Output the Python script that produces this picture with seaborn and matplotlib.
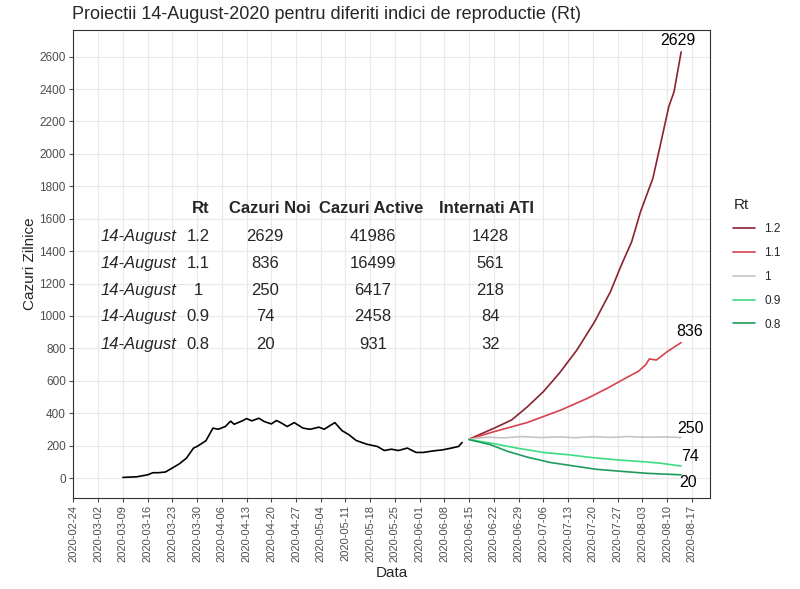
import pandas as pd
import numpy as np
import matplotlib
matplotlib.use("Agg")
import matplotlib.pyplot as plt
import matplotlib.dates as mdates
import seaborn as sns

# observed daily cases (day offset from 2020-03-09, value)
hist_start = pd.Timestamp("2020-03-09")
hist_days = [0, 4, 7, 8.5, 10, 12, 14, 16, 18, 20, 21, 23.5, 25.5, 27, 29, 30.5, 31.5, 34, 35,
             36.5, 38.5, 40, 42, 43.5, 45, 46.5, 48.5, 51, 53, 55.5, 57, 58.5, 60, 62, 64, 66,
             69, 72, 74, 76, 78, 80.5, 83, 85, 88, 90.5, 93, 95, 96]
hist_values = [4, 8, 20, 33, 33, 37, 62, 88, 123, 185, 195, 230, 308, 301, 318, 351, 332, 355, 367,
               353, 369, 349, 334, 355, 338, 318, 342, 308, 301, 314, 301, 322, 342, 293, 267, 232,
               209, 195, 170, 178, 170, 185, 158, 158, 168, 174, 185, 195, 219]

# projections (day offset from 2020-06-15, value) per Rt
proj_start = pd.Timestamp("2020-06-15")
days_12 = [0, 7, 12, 16.5, 21, 25.5, 30.5, 35.5, 40, 43, 46, 48.5, 52, 54, 56.5, 58, 60]
vals_12 = [240, 307, 358, 440, 533, 646, 790, 964, 1150, 1310, 1458, 1643, 1849, 2044, 2291, 2384, 2629]
days_11 = [0, 7, 16.5, 26, 33.5, 39, 45, 48, 50, 51, 53, 56, 60]
vals_11 = [240, 286, 343, 420, 492, 553, 625, 660, 700, 735, 728, 779, 836]
days_10 = [0, 5, 10, 15, 20, 25, 30, 35, 40, 45, 50, 55, 60]
vals_10 = [240, 252, 248, 256, 250, 254, 249, 255, 251, 256, 252, 254, 250]
days_09 = [0, 6, 13.5, 21, 28, 34.5, 42, 48.5, 54, 60]
vals_09 = [237, 216, 185, 158, 144, 127, 112, 102, 92, 74]
days_08 = [0, 6, 11, 16.5, 23, 29.5, 36, 44, 50.5, 60]
vals_08 = [237, 206, 164, 129, 96, 75, 54, 40, 29, 20]

rt_levels = ["1.2", "1.1", "1", "0.9", "0.8"]
rt_colors = ["#8B2230", "#D9414F", "#C4C4C4", "#3DDC84", "#1E9C5A"]

# table values
table_rt = ["1.2", "1.1", "1", "0.9", "0.8"]
cazuri_noi = [2629, 836, 250, 74, 20]
cazuri_active = [41986, 16499, 6417, 2458, 931]
internati_ati = [1428, 561, 218, 84, 32]

hist = pd.DataFrame({"Data": hist_start + pd.to_timedelta(hist_days, unit="D"),
                     "Cazuri": hist_values})

frames = []
for rt, d, v in zip(rt_levels, [days_12, days_11, days_10, days_09, days_08],
                    [vals_12, vals_11, vals_10, vals_09, vals_08]):
    frames.append(pd.DataFrame({"Data": proj_start + pd.to_timedelta(d, unit="D"),
                                "Cazuri": v, "Rt": rt}))
proj = pd.concat(frames, ignore_index=True)

sns.set_theme(style="whitegrid")
plt.rcParams["font.family"] = ["Liberation Sans", "DejaVu Sans"]

fig, ax = plt.subplots(figsize=(8, 5.89), dpi=100)
fig.subplots_adjust(left=0.091, right=0.8875, top=0.949, bottom=0.1545)

sns.lineplot(data=hist, x="Data", y="Cazuri", color="black", linewidth=1.2, ax=ax)
sns.lineplot(data=proj, x="Data", y="Cazuri", hue="Rt", hue_order=rt_levels,
             palette=rt_colors, linewidth=1.2, ax=ax)

# end labels
offsets = [(-3, 11), (8, 11), (9, 9), (9, 10), (7, -8)]
for rt, (dx, dy) in zip(rt_levels, offsets):
    sub = proj[proj["Rt"] == rt]
    last = sub.iloc[-1]
    ax.annotate(str(int(last["Cazuri"])), (last["Data"], last["Cazuri"]),
                xytext=(dx, dy), textcoords="offset pixels", ha="center", va="center",
                fontsize=11.5, color="black")

# table
col_x = [0.103, 0.197, 0.302, 0.471, 0.655]
head_x = [0.200, 0.310, 0.469, 0.650]
row_y = [0.558, 0.5015, 0.4444, 0.3874, 0.329]
for hx, h in zip(head_x, ["Rt", "Cazuri Noi", "Cazuri Active", "Internati ATI"]):
    ax.text(hx, 0.619, h, transform=ax.transAxes, ha="center", va="center",
            fontsize=12, fontweight="bold")
for i, y in enumerate(row_y):
    ax.text(col_x[0], y, "14-August", transform=ax.transAxes, ha="center", va="center",
            fontsize=12, fontstyle="italic")
    for cx, val in zip(col_x[1:], [table_rt[i], cazuri_noi[i], cazuri_active[i], internati_ati[i]]):
        ax.text(cx, y, str(val), transform=ax.transAxes, ha="center", va="center", fontsize=12)

ax.set_xlim(pd.Timestamp("2020-02-23 20:00"), pd.Timestamp("2020-08-22 04:00"))
ax.set_ylim(-123, 2764)
ax.set_yticks(range(0, 2601, 200))
ax.xaxis.set_major_locator(mdates.WeekdayLocator(byweekday=mdates.MO))
ax.xaxis.set_major_formatter(mdates.DateFormatter("%Y-%m-%d"))
plt.setp(ax.get_xticklabels(), rotation=90)
ax.tick_params(axis="both", which="major", labelsize=8.5, colors="#4D4D4D",
               length=3, width=0.8, bottom=True, left=True, pad=2)
ax.tick_params(axis="x", labelsize=8)
ax.grid(True, color="#E8E8E8", linewidth=0.8)
for s in ax.spines.values():
    s.set_color("#333333")
    s.set_linewidth(0.8)

ax.set_xlabel("Data", fontsize=11, labelpad=3)
ax.set_ylabel("Cazuri Zilnice", fontsize=11, labelpad=2)
ax.set_title("Proiectii 14-August-2020 pentru diferiti indici de reproductie (Rt)",
             fontsize=13, loc="left", x=-0.001, pad=8)

leg = ax.legend(title="Rt", loc="center left", bbox_to_anchor=(1.02, 0.5), frameon=False,
                fontsize=8.5, title_fontsize=11, handlelength=1.8, labelspacing=1.0,
                alignment="left")
for line in leg.get_lines():
    line.set_linewidth(1.2)

plt.savefig("out.png", dpi=100)
